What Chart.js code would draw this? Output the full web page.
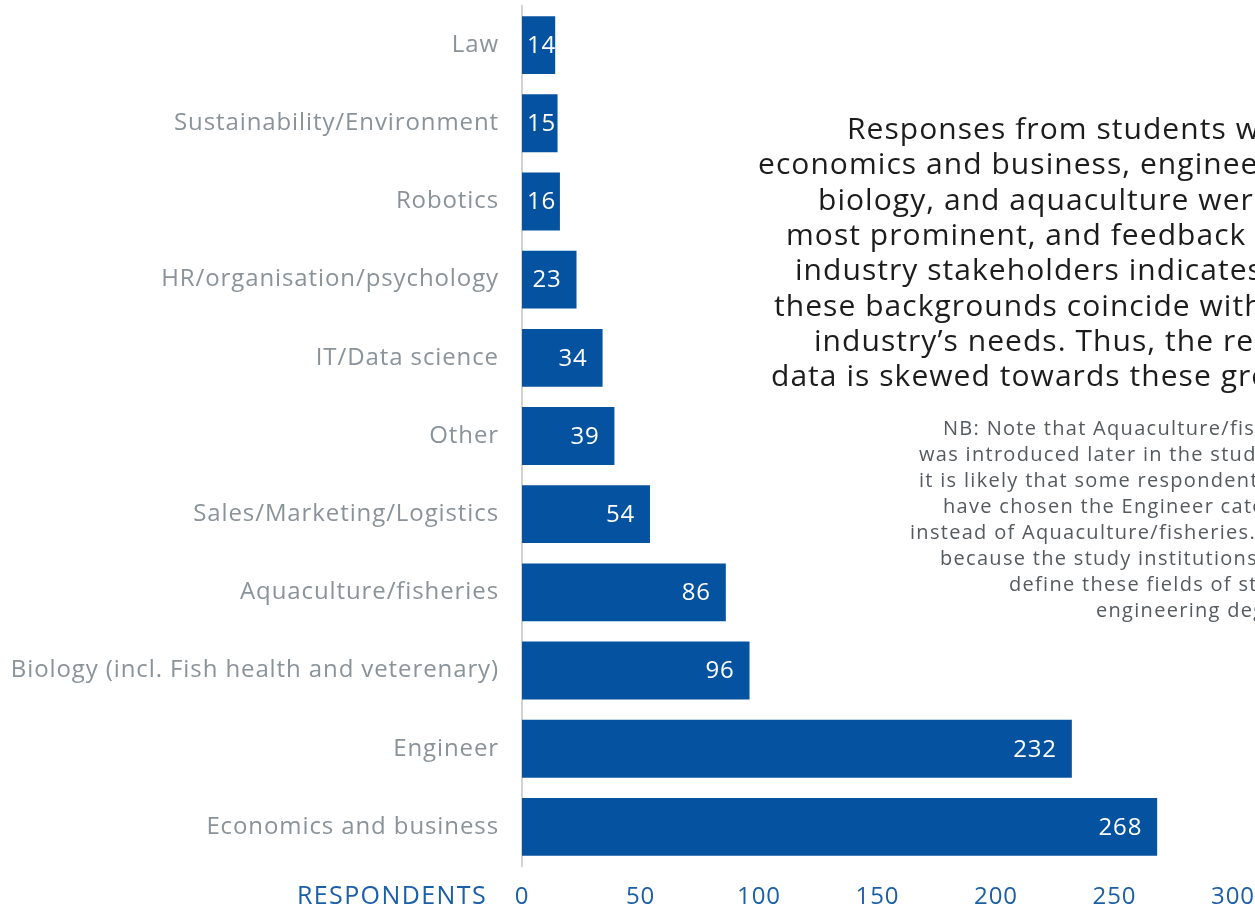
<!DOCTYPE html>
<html lang="en">
<head>
    <meta charset="UTF-8">
    <title>Respondents by field of study</title>
    <script src="https://cdn.jsdelivr.net/npm/chart.js"></script>
    <style>
        html, body {
            margin: 0;
            padding: 0;
            background: #ffffff;
            overflow: hidden;
        }

        .chart-container {
            position: relative;
            width: 1255px;
            height: 908px;
        }
    </style>
</head>
<body>
    <div class="chart-container">
        <canvas id="fieldChart"></canvas>
    </div>

    <script>
        // Field of study, top to bottom
        const fields = [
            'Law',
            'Sustainability/Environment',
            'Robotics',
            'HR/organisation/psychology',
            'IT/Data science',
            'Other',
            'Sales/Marketing/Logistics',
            'Aquaculture/fisheries',
            'Biology (incl. Fish health and veterenary)',
            'Engineer',
            'Economics and business'
        ];
        const respondents = [14, 15, 16, 23, 34, 39, 54, 86, 96, 232, 268];
        const xTicks = [0, 50, 100, 150, 200, 250, 300];

        const summaryLines = [
            'Responses from students with',
            'economics and business, engineering,',
            'biology, and aquaculture were the',
            'most prominent, and feedback from',
            'industry stakeholders indicates that',
            'these backgrounds coincide with the',
            'industry’s needs. Thus, the report’s',
            'data is skewed towards these groups.'
        ];
        const noteLines = [
            'NB: Note that Aquaculture/fisheries',
            'was introduced later in the study, so',
            'it is likely that some respondents may',
            'have chosen the Engineer category',
            'instead of Aquaculture/fisheries. This is',
            'because the study institutions often',
            'define these fields of study as',
            'engineering degrees.'
        ];

        const FONT = "'Open Sans', sans-serif";
        const BAR_BLUE = '#0553a0';
        const TICK_BLUE = '#1b5fa8';

        // left edge of each text line (text block is centred but runs off the page)
        const summaryX = [847, 758, 818, 786, 795, 774, 814, 771];
        const noteX = [943, 919, 919, 943, 910, 940, 1009, 1096];

        // a little tracking so the labels come out wide and airy
        const tracking = {
            id: 'tracking',
            beforeDraw(chart) {
                chart.ctx.letterSpacing = '0.9px';
            }
        };

        const valueLabels = {
            id: 'valueLabels',
            afterDatasetsDraw(chart) {
                const ctx = chart.ctx;
                const meta = chart.getDatasetMeta(0);
                ctx.save();
                ctx.font = '24px ' + FONT;
                ctx.letterSpacing = '0.8px';
                ctx.fillStyle = '#ffffff';
                ctx.textAlign = 'right';
                ctx.textBaseline = 'middle';
                meta.data.forEach((bar, i) => {
                    const txt = String(respondents[i]);
                    const w = ctx.measureText(txt).width;
                    const x = Math.max(bar.x - 15, bar.base + 5 + w);
                    ctx.fillText(txt, x, bar.y + 1);
                });
                ctx.restore();
            }
        };

        const extraText = {
            id: 'extraText',
            afterDraw(chart) {
                const ctx = chart.ctx;
                const area = chart.chartArea;
                ctx.save();

                // axis caption to the left of the tick labels
                ctx.font = '25px ' + FONT;
                ctx.letterSpacing = '1.4px';
                ctx.fillStyle = TICK_BLUE;
                ctx.textAlign = 'right';
                ctx.textBaseline = 'middle';
                ctx.fillText('RESPONDENTS', area.left - 35, area.bottom + 31);

                ctx.textAlign = 'left';
                ctx.textBaseline = 'alphabetic';
                ctx.font = '30px ' + FONT;
                ctx.letterSpacing = '1.05px';
                ctx.fillStyle = '#1c1c1c';
                summaryLines.forEach((line, i) => {
                    ctx.fillText(line, summaryX[i], 139 + i * 35.3);
                });

                ctx.font = '20px ' + FONT;
                ctx.letterSpacing = '1.3px';
                ctx.fillStyle = '#555a5e';
                noteLines.forEach((line, i) => {
                    ctx.fillText(line, noteX[i], 435 + i * 26);
                });
                ctx.restore();
            }
        };

        const ctx = document.getElementById('fieldChart').getContext('2d');
        new Chart(ctx, {
            type: 'bar',
            data: {
                labels: fields,
                datasets: [{
                    data: respondents,
                    backgroundColor: BAR_BLUE,
                    borderWidth: 0,
                    categoryPercentage: 1,
                    barPercentage: 0.74
                }]
            },
            options: {
                indexAxis: 'y',
                responsive: true,
                maintainAspectRatio: false,
                animation: false,
                layout: { padding: { top: 6, right: 22, bottom: 0, left: 0 } },
                plugins: {
                    legend: { display: false },
                    tooltip: { enabled: false }
                },
                scales: {
                    x: {
                        min: 0,
                        max: 300,
                        afterBuildTicks: scale => {
                            scale.ticks = xTicks.map(v => ({ value: v }));
                        },
                        afterFit: scale => {
                            scale.height = 42;
                            scale.paddingLeft = 0;
                            scale.paddingRight = 0;
                        },
                        grid: { display: false, drawTicks: false },
                        border: { display: false },
                        ticks: {
                            color: TICK_BLUE,
                            padding: 17,
                            maxRotation: 0,
                            font: { family: FONT, size: 24 }
                        }
                    },
                    y: {
                        afterFit: scale => {
                            scale.width = 522;
                            scale.paddingTop = 0;
                            scale.paddingBottom = 0;
                        },
                        grid: { display: false, drawTicks: false },
                        border: { display: true, color: '#d2d2d2', width: 2 },
                        ticks: {
                            color: '#8a9399',
                            padding: 23,
                            autoSkip: false,
                            font: { family: FONT, size: 24 }
                        }
                    }
                }
            },
            plugins: [tracking, valueLabels, extraText]
        });
    </script>
</body>
</html>
